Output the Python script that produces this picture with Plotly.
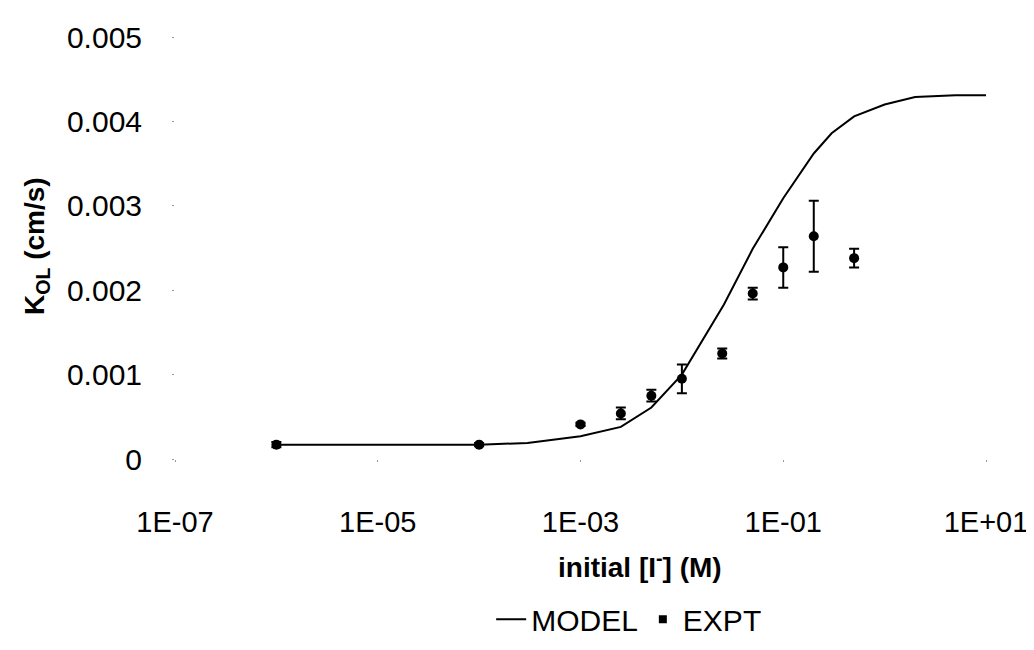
import plotly.graph_objects as go

# Model curve
x_model = [1e-6, 1e-5, 1e-4, 3e-4, 1e-3, 2.5e-3, 5e-3, 1e-2, 2e-2, 2.6e-2, 5e-2,
           0.1, 0.2, 0.3, 0.5, 1, 2, 5, 10]
y_model = [0.00017, 0.00017, 0.00017, 0.00019, 0.00027, 0.00038, 0.00061, 0.00100,
           0.00160, 0.00183, 0.00249, 0.00309, 0.00362, 0.00386, 0.00406, 0.00420,
           0.00429, 0.00431, 0.00431]

# Experimental points
x_expt = [1e-6, 1e-4, 1e-3, 2.5e-3, 5e-3, 1e-2, 2.5e-2, 5e-2, 0.1, 0.2, 0.5]
y_expt = [0.00017, 0.00017, 0.00041, 0.00054, 0.00075, 0.00095, 0.00125, 0.00196,
          0.00227, 0.00264, 0.00238]
err_expt = [0.00003, 0.00002, 0.00002, 0.00007, 0.00007, 0.00017, 0.00006, 0.00007,
            0.00024, 0.00042, 0.00011]

x_ticks = [1e-7, 1e-5, 1e-3, 1e-1, 10]
x_ticktext = ["1E-07", "1E-05", "1E-03", "1E-01", "1E+01"]
y_ticks = [0, 0.001, 0.002, 0.003, 0.004, 0.005]
y_ticktext = ["0", "0.001", "0.002", "0.003", "0.004", "0.005"]

FONT = "Liberation Sans, Arial, sans-serif"

fig = go.Figure()
fig.add_trace(go.Scatter(
    x=x_model, y=y_model, mode="lines", name="MODEL",
    line=dict(color="black", width=2),
))
fig.add_trace(go.Scatter(
    x=x_expt, y=y_expt, mode="markers", name="EXPT", showlegend=False,
    marker=dict(color="black", size=10, symbol="circle"),
    error_y=dict(type="data", array=err_expt, visible=True, color="black",
                 thickness=2, width=5),
))
# legend-only entry with square marker
fig.add_trace(go.Scatter(
    x=[None], y=[None], mode="markers", name="EXPT",
    marker=dict(color="black", size=8, symbol="square"),
))

fig.update_layout(
    width=1034, height=650,
    margin=dict(l=167, r=56, t=23, b=185),
    paper_bgcolor="white", plot_bgcolor="white",
    font=dict(family=FONT, size=28, color="black"),
    showlegend=True,
    legend=dict(orientation="h", x=0.56, xanchor="center", y=-0.38, yanchor="middle",
                font=dict(size=30), itemwidth=30, tracegroupgap=0),
    xaxis=dict(type="log", range=[-7, 1], tickvals=x_ticks, ticktext=x_ticktext,
               showgrid=False, zeroline=False, showline=False,
               ticks="outside", ticklen=2, tickcolor="#999", tickwidth=1,
               ticklabelstandoff=35, tickfont=dict(size=29)),
    yaxis=dict(range=[0, 0.005], tickvals=y_ticks, ticktext=y_ticktext,
               showgrid=False, zeroline=False, showline=False,
               ticks="outside", ticklen=2, tickcolor="#999", tickwidth=1,
               ticklabelstandoff=24, tickfont=dict(size=30)),
    annotations=[
        dict(text="<b>initial [I<sup>-</sup>] (M)</b>", xref="paper", yref="paper",
             x=(632 - 167) / 811, y=(465 - 576) / 442, xanchor="center", yanchor="middle",
             showarrow=False, font=dict(size=28)),
        dict(text="<b>K<sub>OL</sub> (cm/s)</b>", xref="paper", yref="paper",
             x=(28 - 167) / 811, y=(465 - 242) / 442, xanchor="center", yanchor="middle",
             textangle=-90, showarrow=False, font=dict(size=28)),
    ],
)

fig.write_html("out.html")
